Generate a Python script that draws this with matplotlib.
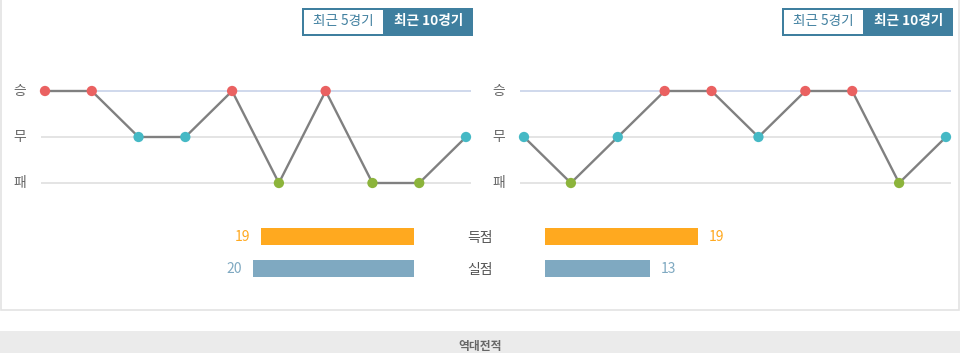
import matplotlib
matplotlib.use("Agg")
import matplotlib.pyplot as plt
from matplotlib.patches import Rectangle

plt.rcParams['font.family'] = ['Noto Sans CJK KR', 'DejaVu Sans']

# ---- data ----
levels = ["패", "무", "승"]
left_results = ["승", "승", "무", "무", "승", "패", "승", "패", "패", "무"]
right_results = ["무", "패", "무", "승", "승", "무", "승", "승", "패", "무"]
stat_labels = ["득점", "실점"]
left_stats = [19, 20]
right_stats = [19, 13]
button_labels = ["최근 5경기", "최근 10경기"]
footer_title = "역대전적"

W, H = 960, 353
fig = plt.figure(figsize=(W / 100, H / 100), dpi=100)
fig.patch.set_facecolor("white")

def px_axes(x0, y0, x1, y1, **kw):
    return fig.add_axes([x0 / W, 1 - y1 / H, (x1 - x0) / W, (y1 - y0) / H], **kw)

# overlay for decorations
ov = px_axes(0, 0, W, H)
ov.set_xlim(0, W); ov.set_ylim(H, 0); ov.axis("off")
ov.set_zorder(0)
# panel border
ov.add_patch(Rectangle((0.5, -5), 958, 315, fill=False, edgecolor="#e3e3e3", linewidth=1.2))
# footer band
ov.add_patch(Rectangle((0, 331), W, 30, facecolor="#ebebeb", edgecolor="none"))
ov.text(480, 346.5, footer_title, ha="center", va="center", fontsize=8.5, color="#666666", fontweight="bold")

# buttons
blue = "#3f7f9f"
for bx in (302, 782):
    ov.add_patch(Rectangle((bx, 7.5), 171, 28.5, facecolor=blue, edgecolor="none"))
    ov.add_patch(Rectangle((bx + 2, 9.5), 79, 24, facecolor="white", edgecolor="none"))
    ov.text(bx + 41.5, 21.5, button_labels[0], ha="center", va="center", fontsize=9.8, color=blue)
    ov.text(bx + 127, 21.5, button_labels[1], ha="center", va="center", fontsize=9.8, color="white", fontweight="bold")

colors = {"승": "#ea6161", "무": "#45b9c5", "패": "#8cb43b"}

def form_chart(x_first, x_last, results):
    n = len(results)
    unit = (x_last - x_first) / (n - 1)
    gx0, gx1 = x_first - 4, x_last + 5
    ax = px_axes(gx0, 78, gx1, 196)
    ax.set_xlim(-(x_first - gx0) / unit, (n - 1) + (gx1 - x_last) / unit)
    ax.set_ylim(-13 / 46, 2 + 13 / 46)
    ax.axis("off")
    for lv in range(3):
        ax.axhline(lv, color="#ccd6eb" if lv == 2 else "#e2e2e2", linewidth=1.3, zorder=1)
    ys = [levels.index(r) for r in results]
    xs = list(range(n))
    ax.plot(xs, ys, color="#808080", linewidth=1.7, zorder=2)
    ax.scatter(xs, ys, s=55, c=[colors[r] for r in results], zorder=3, linewidths=0, clip_on=False)
    for lv, name in enumerate(levels):
        y_px = 183 - 46 * lv
        ov.text(x_first - 25, y_px, name, ha="center", va="center", fontsize=10, color="#666666")
    return ax

form_chart(45, 466, left_results)
form_chart(524, 946, right_results)

# bars
scale = 8.05  # px per goal
bar_w = 214
axL = px_axes(414 - bar_w, 220, 414, 285)
axL.set_xlim(bar_w / scale, 0)
axL.set_ylim(1.5, -0.5)
axL.axis("off")
axR = px_axes(545, 220, 545 + bar_w, 285)
axR.set_xlim(0, bar_w / scale)
axR.set_ylim(1.5, -0.5)
axR.axis("off")
bar_colors = ["#ffa91f", "#7fa9c1"]
for ax, vals, side in ((axL, left_stats, "L"), (axR, right_stats, "R")):
    for i, v in enumerate(vals):
        ax.barh(i, v, height=17 / 32.5, color=bar_colors[i], edgecolor="none")
        off = 11 / scale
        ax.text(v + off, i + 0.02, str(v), ha="right" if side == "L" else "left", va="center",
                fontsize=10, color=bar_colors[i])
for i, lab in enumerate(stat_labels):
    ov.text(480, 238 + 32 * i, lab, ha="center", va="center", fontsize=10, color="#555555")

fig.savefig("out.png", dpi=100)
